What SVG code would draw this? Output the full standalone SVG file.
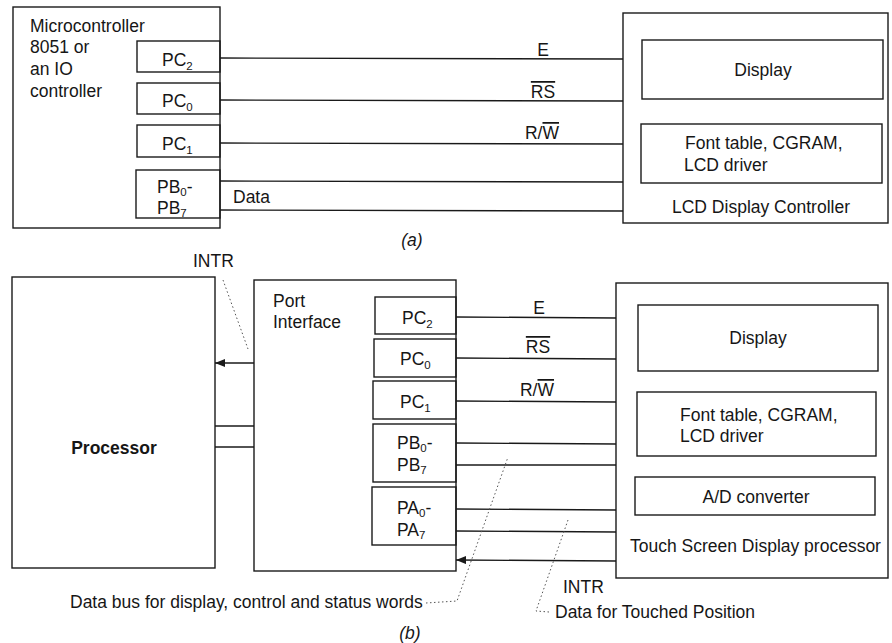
<svg xmlns="http://www.w3.org/2000/svg" width="892" height="643" viewBox="0 0 892 643">
<defs>
<style>
text{font-family:"Liberation Sans",Arial,Helvetica,sans-serif;font-size:17.5px;fill:#161616}
.b{font-weight:bold}
.m{text-anchor:middle}
.sub{font-size:11.5px}
.ov{text-decoration:overline}
.box{fill:none;stroke:#1a1a1a;stroke-width:1.4}
.ln{fill:none;stroke:#1a1a1a;stroke-width:1.4}
.dot{fill:none;stroke:#555;stroke-width:1;stroke-dasharray:1.5 2.5}
</style>
<marker id="ah" viewBox="0 0 10 8" refX="10" refY="4" markerWidth="10" markerHeight="8" markerUnits="userSpaceOnUse" orient="auto">
<path d="M0,0 L10,4 L0,8 Z" fill="#1a1a1a"/>
</marker>
</defs>
<rect width="892" height="643" fill="#fff"/>

<!-- (a) -->
<g id="mcu">
<rect class="box" x="13" y="7" width="207" height="221"/>
<text x="30" y="32">Microcontroller</text>
<text x="30" y="53">8051 or</text>
<text x="30" y="75">an IO</text>
<text x="30" y="97">controller</text>
</g>
<g id="a-pc2"><rect class="box" x="137" y="41" width="83" height="31"/><text x="162" y="66">PC<tspan class="sub" dy="4">2</tspan></text></g>
<g id="a-pc0"><rect class="box" x="137" y="83" width="83" height="31"/><text x="162" y="107">PC<tspan class="sub" dy="4">0</tspan></text></g>
<g id="a-pc1"><rect class="box" x="137" y="125" width="83" height="32"/><text x="162" y="150">PC<tspan class="sub" dy="4">1</tspan></text></g>
<g id="a-pb"><rect class="box" x="136" y="170" width="84" height="48"/><text x="157" y="193">PB<tspan class="sub" dy="3">0</tspan><tspan dy="-3">-</tspan></text><text x="157" y="214">PB<tspan class="sub" dy="3">7</tspan></text></g>

<g id="lcd">
<rect class="box" x="623" y="13" width="265" height="210"/>
<text x="672" y="213">LCD Display Controller</text>
</g>
<g id="a-display"><rect class="box" x="642" y="40" width="241" height="59"/><text class="m" x="763" y="76">Display</text></g>
<g id="a-font"><rect class="box" x="641" y="124" width="241" height="59"/><text x="685" y="149">Font table, CGRAM,</text><text x="684" y="171">LCD driver</text></g>

<g id="a-connectors">
<line class="ln" x1="220" y1="58" x2="623" y2="59"/>
<line class="ln" x1="220" y1="100" x2="623" y2="101"/>
<line class="ln" x1="220" y1="143" x2="623" y2="144"/>
<line class="ln" x1="220" y1="181" x2="623" y2="182"/>
<line class="ln" x1="220" y1="210" x2="623" y2="211"/>
<text class="m" x="543" y="56">E</text>
<text class="m" x="543" y="98"><tspan class="ov">RS</tspan></text>
<text class="m" x="542" y="139">R/<tspan class="ov">W</tspan></text>
<text x="233" y="203">Data</text>
</g>
<text class="m" x="412" y="246" font-style="italic">(a)</text>

<!-- (b) -->
<g id="processor">
<rect class="box" x="12" y="277" width="203" height="291"/>
<text class="m b" x="114" y="454">Processor</text>
</g>
<g id="port">
<rect class="box" x="254" y="280" width="202" height="291"/>
<text x="273" y="307">Port</text>
<text x="273" y="328">Interface</text>
</g>
<g id="b-pc2"><rect class="box" x="375" y="297" width="81" height="37"/><text x="402" y="324">PC<tspan class="sub" dy="4">2</tspan></text></g>
<g id="b-pc0"><rect class="box" x="374" y="339" width="82" height="38"/><text x="400" y="365">PC<tspan class="sub" dy="4">0</tspan></text></g>
<g id="b-pc1"><rect class="box" x="373" y="381" width="83" height="38"/><text x="400" y="408">PC<tspan class="sub" dy="4">1</tspan></text></g>
<g id="b-pb"><rect class="box" x="373" y="424" width="83" height="58"/><text x="397" y="449">PB<tspan class="sub" dy="3">0</tspan><tspan dy="-3">-</tspan></text><text x="397" y="471">PB<tspan class="sub" dy="3">7</tspan></text></g>
<g id="b-pa"><rect class="box" x="372" y="487" width="84" height="58"/><text x="397" y="514">PA<tspan class="sub" dy="3">0</tspan><tspan dy="-3">-</tspan></text><text x="397" y="536">PA<tspan class="sub" dy="3">7</tspan></text></g>

<g id="touch">
<rect class="box" x="616" y="283" width="272" height="295"/>
<text x="630" y="552">Touch Screen Display processor</text>
</g>
<g id="b-display"><rect class="box" x="638" y="305" width="240" height="66"/><text class="m" x="758" y="344">Display</text></g>
<g id="b-font"><rect class="box" x="637" y="392" width="239" height="64"/><text x="680" y="421">Font table, CGRAM,</text><text x="680" y="442">LCD driver</text></g>
<g id="b-adc"><rect class="box" x="635" y="477" width="240" height="38"/><text class="m" x="756" y="503">A/D converter</text></g>

<g id="b-connectors">
<line class="ln" x1="254" y1="363" x2="215" y2="363" marker-end="url(#ah)"/>
<line class="ln" x1="215" y1="426" x2="254" y2="426"/>
<line class="ln" x1="215" y1="447" x2="254" y2="447"/>
<line class="ln" x1="456" y1="317" x2="616" y2="318"/>
<line class="ln" x1="456" y1="358" x2="616" y2="359"/>
<line class="ln" x1="456" y1="401" x2="616" y2="402"/>
<line class="ln" x1="456" y1="443" x2="616" y2="444"/>
<line class="ln" x1="456" y1="465" x2="616" y2="465"/>
<line class="ln" x1="456" y1="509" x2="616" y2="510"/>
<line class="ln" x1="456" y1="531" x2="616" y2="532"/>
<line class="ln" x1="616" y1="561" x2="456" y2="560" marker-end="url(#ah)"/>
<text class="m" x="539" y="314">E</text>
<text class="m" x="538" y="353"><tspan class="ov">RS</tspan></text>
<text class="m" x="537" y="396">R/<tspan class="ov">W</tspan></text>
<text x="193" y="267">INTR</text>
<line class="dot" x1="223" y1="280" x2="248" y2="349"/>
<text x="70" y="608">Data bus for display, control and status words</text>
<polyline class="dot" points="426,603 457,601 508,457"/>
<text x="563" y="593">INTR</text>
<text x="555" y="618">Data for Touched Position</text>
<polyline class="dot" points="549,612 536,611 568,520"/>
</g>
<text class="m" x="410" y="639" font-style="italic">(b)</text>
</svg>
